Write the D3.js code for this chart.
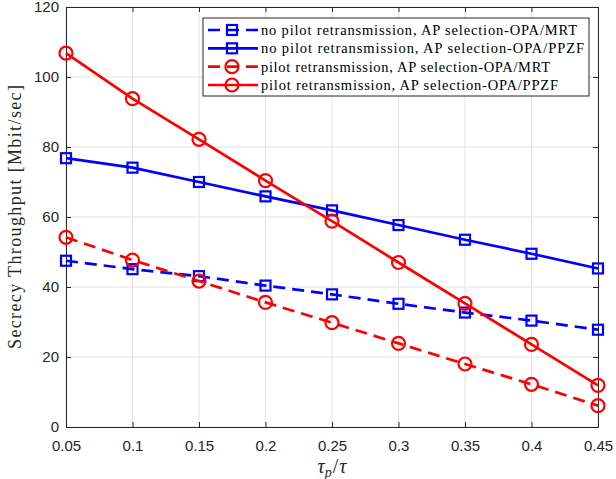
<!DOCTYPE html>
<html>
<head>
<meta charset="utf-8">
<script src="https://cdn.jsdelivr.net/npm/d3@7"></script>
<style>
  html, body { margin: 0; padding: 0; background: #fff; }
  svg { display: block; }
</style>
</head>
<body>
<div id="chart"></div>
<script>
// Pilot length ratio tau_p / tau on the x axis
const tauRatio = [0.05, 0.1, 0.15, 0.2, 0.25, 0.3, 0.35, 0.4, 0.45];

// Secrecy throughput [Mbit/sec] for each scheme
const noRetxMRT  = [47.5, 45.1, 43.1, 40.4, 37.9, 35.2, 32.7, 30.4, 27.8];
const noRetxPPZF = [76.8, 74.1, 70.0, 65.9, 61.9, 57.7, 53.5, 49.5, 45.3];
const retxMRT    = [54.2, 47.7, 41.7, 35.6, 29.8, 23.9, 18.0, 12.2, 6.1];
const retxPPZF   = [106.8, 93.8, 82.2, 70.4, 58.8, 47.0, 35.3, 23.6, 11.9];

const seriesNames = [
  "no pilot retransmission, AP selection-OPA/MRT",
  "no pilot retransmission, AP selection-OPA/PPZF",
  "pilot retransmission, AP selection-OPA/MRT",
  "pilot retransmission, AP selection-OPA/PPZF"
];

const xTicks = [0.05, 0.1, 0.15, 0.2, 0.25, 0.3, 0.35, 0.4, 0.45];
const yTicks = [0, 20, 40, 60, 80, 100, 120];

const series = [
  { name: seriesNames[0], values: noRetxMRT,  color: "#0000ff", dashed: true,  marker: "square", textLen: 316 },
  { name: seriesNames[1], values: noRetxPPZF, color: "#0000ff", dashed: false, marker: "square", textLen: 323 },
  { name: seriesNames[2], values: retxMRT,    color: "#ff0000", dashed: true,  marker: "circle", textLen: 289 },
  { name: seriesNames[3], values: retxPPZF,   color: "#ff0000", dashed: false, marker: "circle", textLen: 297 }
];

const W = 616, H = 479;
const plot = { left: 66, top: 7, right: 598, bottom: 427 };
const axisColor = "#262626";
const gridColor = "#e3e3e3";
const dashPattern = "12,7";

const svg = d3.select("#chart").append("svg")
  .attr("width", W).attr("height", H);

const x = d3.scaleLinear().domain([0.05, 0.45]).range([plot.left, plot.right]);
const y = d3.scaleLinear().domain([0, 120]).range([plot.bottom, plot.top]);

// grid
const grid = svg.append("g");
grid.selectAll("line.gx").data(xTicks).join("line")
  .attr("x1", d => x(d)).attr("x2", d => x(d))
  .attr("y1", plot.top).attr("y2", plot.bottom)
  .attr("stroke", gridColor).attr("stroke-width", 1);
grid.selectAll("line.gy").data(yTicks).join("line")
  .attr("x1", plot.left).attr("x2", plot.right)
  .attr("y1", d => y(d)).attr("y2", d => y(d))
  .attr("stroke", gridColor).attr("stroke-width", 1);

// axes (ticks inward, box on all sides)
const tickFont = "'Liberation Sans', Arial, Helvetica, sans-serif";
const xAxis = svg.append("g").attr("transform", `translate(0,${plot.bottom})`)
  .call(d3.axisBottom(x).tickValues(xTicks).tickSizeInner(-5).tickSizeOuter(0)
    .tickPadding(13).tickFormat(d3.format("")));
const xAxisTop = svg.append("g").attr("transform", `translate(0,${plot.top})`)
  .call(d3.axisTop(x).tickValues(xTicks).tickSizeInner(-5).tickSizeOuter(0).tickFormat(""));
const yAxis = svg.append("g").attr("transform", `translate(${plot.left},0)`)
  .call(d3.axisLeft(y).tickValues(yTicks).tickSizeInner(-5).tickSizeOuter(0).tickPadding(7));
const yAxisRight = svg.append("g").attr("transform", `translate(${plot.right},0)`)
  .call(d3.axisRight(y).tickValues(yTicks).tickSizeInner(-5).tickSizeOuter(0).tickFormat(""));

[xAxis, xAxisTop, yAxis, yAxisRight].forEach(g => {
  g.select(".domain").attr("stroke", axisColor).attr("stroke-width", 1);
  g.selectAll(".tick line").attr("stroke", axisColor).attr("stroke-width", 1);
  g.selectAll(".tick text").attr("fill", axisColor)
    .style("font-family", tickFont).style("font-size", "15px");
});

// series lines
const line = d3.line().x((d, i) => x(tauRatio[i])).y(d => y(d));

function drawMarker(g, kind, cx, cy, color) {
  if (kind === "square") {
    g.append("rect")
      .attr("x", cx - 5).attr("y", cy - 5).attr("width", 10).attr("height", 10)
      .attr("fill", "none").attr("stroke", color).attr("stroke-width", 2.2);
  } else {
    g.append("circle")
      .attr("cx", cx).attr("cy", cy).attr("r", 6.5)
      .attr("fill", "none").attr("stroke", color).attr("stroke-width", 2.2);
  }
}

series.forEach(s => {
  const g = svg.append("g");
  g.append("path")
    .attr("d", line(s.values))
    .attr("fill", "none")
    .attr("stroke", s.color)
    .attr("stroke-width", 2.7)
    .attr("stroke-dasharray", s.dashed ? dashPattern : null);
  s.values.forEach((v, i) => drawMarker(g, s.marker, x(tauRatio[i]), y(v), s.color));
});

// legend
const serif = "'Liberation Serif', 'Times New Roman', serif";
const legend = { x0: 203, y0: 18, x1: 589, y1: 96 };
const lg = svg.append("g");
lg.append("rect")
  .attr("x", legend.x0).attr("y", legend.y0)
  .attr("width", legend.x1 - legend.x0).attr("height", legend.y1 - legend.y0)
  .attr("fill", "#fff").attr("stroke", axisColor).attr("stroke-width", 1);

const rowY = d3.scaleLinear().domain([0, 3]).range([30, 85]);
series.forEach((s, i) => {
  const cy = rowY(i);
  const row = lg.append("g");
  row.append("line")
    .attr("x1", 208).attr("x2", 258).attr("y1", cy).attr("y2", cy)
    .attr("stroke", s.color).attr("stroke-width", 2.7)
    .attr("stroke-dasharray", s.dashed ? dashPattern : null);
  drawMarker(row, s.marker, 232, cy, s.color);
  row.append("text")
    .attr("x", 261).attr("y", cy + 5)
    .attr("fill", "#000")
    .attr("textLength", s.textLen).attr("lengthAdjust", "spacing")
    .style("font-family", serif).style("font-size", "14.5px")
    .text(s.name);
});

// axis labels
svg.append("text")
  .attr("transform", `translate(21,217) rotate(-90)`)
  .attr("text-anchor", "middle")
  .attr("fill", axisColor)
  .attr("textLength", 264).attr("lengthAdjust", "spacing")
  .style("font-family", serif).style("font-size", "18px")
  .text("Secrecy Throughput [Mbit/sec]");

const xl = svg.append("text")
  .attr("x", 332).attr("y", 473)
  .attr("text-anchor", "middle")
  .attr("fill", axisColor)
  .style("font-family", serif).style("font-size", "20px").style("font-style", "italic");
xl.append("tspan").text("τ");
xl.append("tspan").attr("dy", 4).style("font-size", "14px").text("p");
xl.append("tspan").attr("dy", -4).attr("dx", 1).style("font-style", "normal").text("/");
xl.append("tspan").attr("dx", 1).text("τ");
</script>
</body>
</html>
